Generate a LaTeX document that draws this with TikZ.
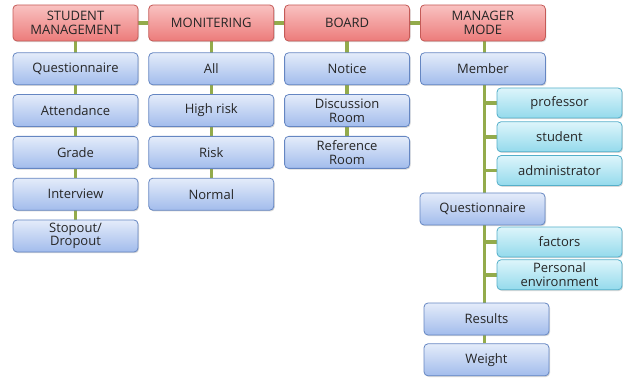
\documentclass[tikz,border=0pt]{standalone}
\usepackage{fontspec}
\setmainfont{Open Sans}
\usepackage{tikz}
\usetikzlibrary{positioning, backgrounds, shadows}
\definecolor{headtop}{HTML}{F9C2C1}
\definecolor{headbot}{HTML}{EC7B7A}
\definecolor{headline}{HTML}{C45A57}
\definecolor{itemtop}{HTML}{E4ECFA}
\definecolor{itembot}{HTML}{A2BCEC}
\definecolor{itemline}{HTML}{6586C2}
\definecolor{subtop}{HTML}{DDF5FB}
\definecolor{subbot}{HTML}{94DAEC}
\definecolor{subline}{HTML}{55AFC9}
\definecolor{branchgreen}{HTML}{93AB4B}

\begin{document}
\begin{tikzpicture}[
    x=1pt, y=-1pt,
    node distance=9pt and 10pt,
    box/.style={draw, rounded corners=4pt, line width=0.8pt, minimum width=125pt,
                text centered, align=center, inner sep=1pt, text=black!85,
                font=\fontsize{13}{13.5}\selectfont,
                drop shadow={shadow xshift=1pt, shadow yshift=-1.2pt, opacity=0.3}},
    head/.style={box, minimum height=36pt, draw=headline, top color=headtop, bottom color=headbot},
    item/.style={box, minimum height=32pt, draw=itemline, top color=itemtop, bottom color=itembot},
    sub/.style={box, minimum height=30pt, draw=subline, top color=subtop, bottom color=subbot},
    branch/.style={branchgreen, line width=3.5pt},
  ]
  \useasboundingbox (0,0) rectangle (623,379);

  % Headers
  \node[head] (stud) at (75.5,23) {STUDENT\\MANAGEMENT};
  \node[head, right=of stud] (mon) {MONITERING};
  \node[head, right=of mon] (board) {BOARD};
  \node[head, right=of board] (mgr) {MANAGER\\MODE};

  % Student management
  \node[item, below=11pt of stud] (squest) {Questionnaire};
  \node[item, below=of squest] (attend) {Attendance};
  \node[item, below=of attend] (grade) {Grade};
  \node[item, below=of grade] (inter) {Interview};
  \node[item, below=of inter] (stop) {Stopout/\\Dropout};

  % Monitering
  \node[item, below=11pt of mon] (all) {All};
  \node[item, below=of all] (high) {High risk};
  \node[item, below=of high] (risk) {Risk};
  \node[item, below=of risk] (normal) {Normal};

  % Board
  \node[item, below=11pt of board] (notice) {Notice};
  \node[item, below=of notice] (disc) {Discussion\\Room};
  \node[item, below=of disc] (refer) {Reference\\Room};

  % Manager mode
  \node[item, below=11pt of mgr] (member) {Member};
  \node[sub] (prof) at (559.5,103) {professor};
  \node[sub, below=3pt of prof] (pstud) {student};
  \node[sub, below=3pt of pstud] (admin) {administrator};
  \node[item] (mquest) at (482.5,209) {Questionnaire};
  \node[sub] (fact) at (559.5,242) {factors};
  \node[sub, below=2pt of fact] (pers) {Personal\\environment};
  \node[item] (result) at (486.5,319) {Results};
  \node[item, below=8pt of result] (weight) {Weight};

  % Connectors
  \begin{scope}[on background layer]
    \draw[branch] (stud) -- (mon) -- (board) -- (mgr);
    \draw[branch] (stud) -- (stop);
    \draw[branch] (mon) -- (normal);
    \draw[branch] (board) -- (refer);
    \coordinate (trunk) at ([xshift=1.5pt]mgr.south);
    \draw[branch] (trunk) -- (trunk |- weight.north);
    \foreach \n in {prof, pstud, admin, fact, pers}
      \draw[branch] (trunk |- \n.west) -- (\n.west);
  \end{scope}

\end{tikzpicture}
\end{document}
